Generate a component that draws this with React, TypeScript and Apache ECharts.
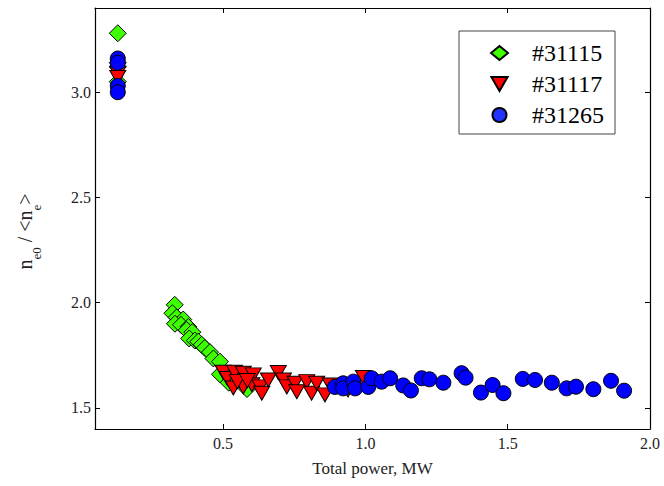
import React, { useEffect, useRef } from "react";
import * as echarts from "echarts";

const seriesNames = ["#31115", "#31117", "#31265"];

const x31115 = [0.13, 0.13, 0.13, 0.13, 0.33, 0.322, 0.337, 0.36, 0.331, 0.352, 0.378, 0.372, 0.392, 0.381, 0.401, 0.413, 0.425, 0.436, 0.454, 0.466, 0.489, 0.489, 0.56, 0.584, 0.52];
const y31115 = [3.28, 3.14, 3.12, 3.05, 1.99, 1.95, 1.93, 1.92, 1.9, 1.895, 1.885, 1.87, 1.86, 1.83, 1.82, 1.815, 1.8, 1.785, 1.765, 1.735, 1.72, 1.66, 1.63, 1.59, 1.62];

const x31117 = [0.13, 0.13, 0.5, 0.515, 0.54, 0.536, 0.571, 0.571, 0.606, 0.601, 0.63, 0.636, 0.659, 0.694, 0.712, 0.724, 0.753, 0.759, 0.794, 0.811, 0.829, 0.858, 0.876, 0.939, 0.993, 0.55, 0.585];
const y31117 = [3.09, 3.07, 1.67, 1.64, 1.67, 1.595, 1.665, 1.6, 1.657, 1.61, 1.6, 1.57, 1.633, 1.668, 1.633, 1.6, 1.617, 1.577, 1.625, 1.57, 1.617, 1.562, 1.609, 1.585, 1.645, 1.625, 1.63];

const x31265 = [0.13, 0.13, 0.13, 0.13, 0.893, 0.922, 0.922, 0.958, 0.964, 1.01, 1.022, 1.057, 1.087, 1.133, 1.16, 1.198, 1.225, 1.274, 1.338, 1.352, 1.406, 1.447, 1.485, 1.553, 1.596, 1.655, 1.707, 1.74, 1.801, 1.863, 1.909];
const y31265 = [3.16, 3.14, 3.03, 3.0, 1.6, 1.617, 1.593, 1.625, 1.593, 1.6, 1.641, 1.625, 1.641, 1.607, 1.583, 1.641, 1.636, 1.62, 1.665, 1.644, 1.573, 1.609, 1.57, 1.638, 1.633, 1.62, 1.593, 1.601, 1.589, 1.629, 1.582];

const xTicks = [0.5, 1.0, 1.5, 2.0];
const yTicks = [1.5, 2.0, 2.5, 3.0];
const xRange = [0.05, 2.0];
const yRange = [1.4, 3.4];

const FONT = "'Liberation Serif', 'Times New Roman', serif";
const TRI = "path://M0,0L10,0L5,8.66Z";

function pairs(xs: number[], ys: number[]) {
  return xs.map((x, i) => [x, ys[i]]);
}

export default function App() {
  const ref = useRef<HTMLDivElement>(null);
  useEffect(() => {
    if (!ref.current) return;
    const chart = echarts.init(ref.current, null, { renderer: "svg" });
    const axisCommon = {
      type: "value" as const,
      axisLine: { show: true, lineStyle: { color: "#000", width: 1.2 } },
      splitLine: { show: false },
    };
    const border = { borderColor: "#000", borderWidth: 1, opacity: 1 };
    chart.setOption({
      animation: false,
      backgroundColor: "#fff",
      grid: { left: 95, right: 14, top: 8, bottom: 57 },
      legend: {
        orient: "vertical",
        left: 459,
        top: 31,
        selectedMode: false,
        padding: [10, 11, 7, 31],
        itemGap: 7,
        itemWidth: 17,
        itemHeight: 14,
        borderColor: "#444",
        borderWidth: 1,
        textStyle: { fontFamily: FONT, fontSize: 24, color: "#000", lineHeight: 24, padding: [0, 0, 0, 19] },
        data: [
          { name: seriesNames[0], icon: "diamond" },
          { name: seriesNames[1], icon: TRI },
          { name: seriesNames[2], icon: "circle", itemStyle: { color: "#2233ff" } },
        ],
      },
      xAxis: [
        {
          ...axisCommon,
          position: "bottom",
          min: xRange[0],
          max: xRange[1],
          axisTick: { show: true, inside: true, length: 5, customValues: xTicks, lineStyle: { color: "#000" } },
          axisLabel: {
            show: true,
            customValues: xTicks,
            margin: 6,
            fontFamily: FONT,
            fontSize: 16,
            color: "#222",
            formatter: (v: number) => v.toFixed(1),
          },
          name: "Total power, MW",
          nameLocation: "middle",
          nameGap: 31,
          nameTextStyle: { fontFamily: FONT, fontSize: 17, color: "#222" },
        },
        {
          ...axisCommon,
          position: "top",
          min: xRange[0],
          max: xRange[1],
          axisTick: { show: true, inside: true, length: 5, customValues: xTicks, lineStyle: { color: "#000" } },
          axisLabel: { show: false },
        },
      ],
      yAxis: [
        {
          ...axisCommon,
          position: "left",
          min: yRange[0],
          max: yRange[1],
          axisTick: { show: true, inside: true, length: 5, customValues: yTicks, lineStyle: { color: "#000" } },
          axisLabel: {
            show: true,
            customValues: yTicks,
            margin: 4,
            fontFamily: FONT,
            fontSize: 16,
            color: "#222",
            formatter: (v: number) => v.toFixed(1),
          },
          name: "{n|n}{s|e0}{n| / <n}{s|e}{n|>}",
          nameLocation: "middle",
          nameGap: 52,
          nameRotate: 90,
          nameTextStyle: {
            fontFamily: FONT,
            color: "#222",
            padding: [0, 26, 0, 0],
            rich: {
              n: { fontFamily: FONT, fontSize: 20, color: "#222", lineHeight: 28, verticalAlign: "top" },
              s: { fontFamily: FONT, fontSize: 13, color: "#222", lineHeight: 13, verticalAlign: "bottom" },
            },
          },
        },
        {
          ...axisCommon,
          position: "right",
          min: yRange[0],
          max: yRange[1],
          axisTick: { show: true, inside: true, length: 5, customValues: yTicks, lineStyle: { color: "#000" } },
          axisLabel: { show: false },
        },
      ],
      series: [
        {
          name: seriesNames[0],
          type: "scatter",
          symbol: "diamond",
          symbolSize: 17,
          itemStyle: { color: "#3dff00", ...border },
          data: pairs(x31115, y31115),
        },
        {
          name: seriesNames[1],
          type: "scatter",
          symbol: TRI,
          symbolSize: [16, 14],
          itemStyle: { color: "#ff0000", ...border },
          data: pairs(x31117, y31117),
        },
        {
          name: seriesNames[2],
          type: "scatter",
          symbol: "circle",
          symbolSize: 15,
          itemStyle: { color: "#0000ff", ...border },
          data: pairs(x31265, y31265),
        },
      ],
    });
    return () => chart.dispose();
  }, []);
  return <div ref={ref} style={{ width: 664, height: 486, position: "absolute", left: 0, top: 0 }} />;
}
